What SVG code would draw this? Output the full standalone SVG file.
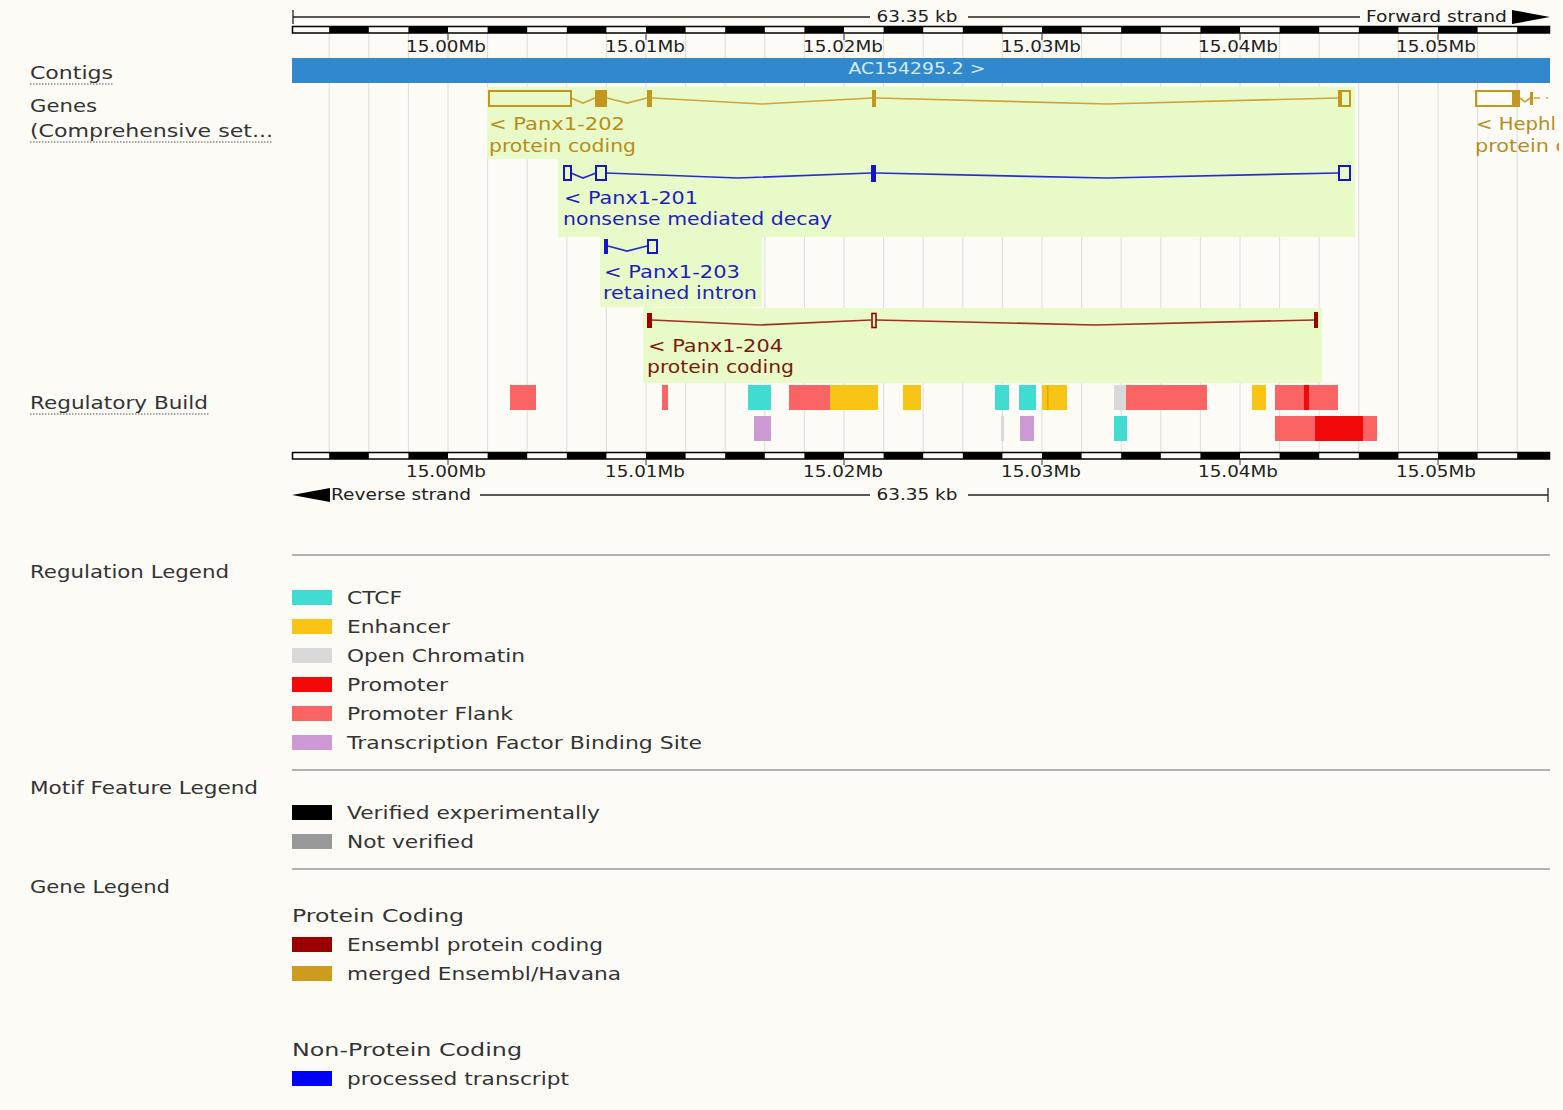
<svg xmlns="http://www.w3.org/2000/svg" width="1563" height="1110" viewBox="0 0 1563 1110">
<style>
text{font-family:"DejaVu Sans","Liberation Sans",sans-serif;}
.lbl{font-size:18px;fill:#333;}
.rul{font-size:15px;fill:#222;}
.leg{font-size:18px;fill:#333;}
.grid{stroke:#dcdcdc;stroke-width:1;}
.ul{stroke:#555;stroke-width:1;stroke-dasharray:1.5,1.5;}
.hr{stroke:#9a9a9a;stroke-width:1.5;}
.gold{fill:#c4961e;}
.goldt{fill:#b88c1c;font-size:18px;}
.goldl{stroke:#d0a43a;stroke-width:1.7;fill:none;}
.goldo{stroke:#c4961e;stroke-width:2;fill:none;}
.blue{fill:#1414c8;}
.bluet{fill:#1e1ebe;font-size:18px;}
.bluel{stroke:#2a2ad0;stroke-width:1.7;fill:none;}
.blueo{stroke:#1414c8;stroke-width:2;fill:none;}
.red{fill:#990000;}
.redt{fill:#7a1a0a;font-size:18px;}
.redl{stroke:#a03020;stroke-width:1.7;fill:none;}
.redo{stroke:#990000;stroke-width:1.6;fill:none;}
.lab{fill:#e7fac8;}
.ctcf{fill:#40dcd2;}
.enh{fill:#f8c416;}
.oc{fill:#d9d9d9;}
.pro{fill:#f20a0a;}
.pf{fill:#fa6464;}
.tfbs{fill:#cc99d2;}
</style>
<defs>
<pattern id="rulerpat" patternUnits="userSpaceOnUse" x="329.2" y="0" width="79.2" height="1200">
<rect x="0" y="0" width="39.6" height="1200" fill="#000"/>
</pattern>
<clipPath id="trackclip"><rect x="292" y="0" width="1267" height="1110"/></clipPath>
</defs>
<rect x="0" y="0" width="1563" height="1110" fill="#fcfbf6"/>

<g id="gridlines">
<path class="grid" d="M329.2 33V452M368.8 33V452M408.4 33V452M448 33V452M487.6 33V452M527.2 33V452M566.8 33V452M606.4 33V452M646 33V452M685.6 33V452M725.2 33V452M764.8 33V452M804.4 33V452M844 33V452M883.6 33V452M923.2 33V452M962.8 33V452M1002.4 33V452M1042 33V452M1081.6 33V452M1121.2 33V452M1160.8 33V452M1200.4 33V452M1240 33V452M1279.6 33V452M1319.2 33V452M1358.8 33V452M1398.4 33V452M1438 33V452M1477.6 33V452M1517.2 33V452"/>
</g>

<g id="top-ruler">
<path d="M293 17H870M968 17H1360M293 10V24" stroke="#222" stroke-width="1.3" fill="none"/>
<text class="rul" x="917" y="22" text-anchor="middle" font-size="16" textLength="81" lengthAdjust="spacingAndGlyphs">63.35 kb</text>
<text class="rul" x="1366" y="22" font-size="16" textLength="141" lengthAdjust="spacingAndGlyphs">Forward strand</text>
<polygon points="1512,10 1550,17 1512,24" fill="#000"/>
<rect x="292.5" y="26.5" width="1257" height="6.5" fill="url(#rulerpat)" stroke="#000" stroke-width="1.5"/>
<path d="M448 33V40M646 33V40M844 33V40M1042 33V40M1240 33V40M1438 33V40" stroke="#555" stroke-width="1.2"/>
<text class="rul" x="446" y="52" text-anchor="middle" textLength="80" lengthAdjust="spacingAndGlyphs">15.00Mb</text>
<text class="rul" x="645" y="52" text-anchor="middle" textLength="80" lengthAdjust="spacingAndGlyphs">15.01Mb</text>
<text class="rul" x="843" y="52" text-anchor="middle" textLength="80" lengthAdjust="spacingAndGlyphs">15.02Mb</text>
<text class="rul" x="1041" y="52" text-anchor="middle" textLength="80" lengthAdjust="spacingAndGlyphs">15.03Mb</text>
<text class="rul" x="1238" y="52" text-anchor="middle" textLength="80" lengthAdjust="spacingAndGlyphs">15.04Mb</text>
<text class="rul" x="1436" y="52" text-anchor="middle" textLength="80" lengthAdjust="spacingAndGlyphs">15.05Mb</text>
</g>

<g id="track-labels">
<text class="lbl" x="30" y="79" textLength="83" lengthAdjust="spacingAndGlyphs">Contigs</text>
<line class="ul" x1="30" y1="84" x2="114" y2="84"/>
<text class="lbl" x="30" y="112" textLength="67" lengthAdjust="spacingAndGlyphs">Genes</text>
<text class="lbl" x="30" y="137" textLength="243" lengthAdjust="spacingAndGlyphs">(Comprehensive set...</text>
<line class="ul" x1="30" y1="142" x2="273" y2="142"/>
<text class="lbl" x="30" y="409" textLength="178" lengthAdjust="spacingAndGlyphs">Regulatory Build</text>
<line class="ul" x1="30" y1="414" x2="210" y2="414"/>
</g>

<g id="contig-AC154295.2">
<rect x="292" y="58" width="1258" height="25" fill="#3188cc"/>
<text x="917" y="74" text-anchor="middle" font-size="15" fill="#d6ebf8" textLength="137" lengthAdjust="spacingAndGlyphs">AC154295.2 &gt;</text>
</g>

<g id="label-backgrounds">
<rect class="lab" x="487" y="87" width="868" height="72"/>
<rect class="lab" x="558" y="159" width="797" height="78"/>
<rect class="lab" x="600" y="237" width="162" height="70"/>
<rect class="lab" x="643" y="308" width="679" height="75"/>
</g>

<g id="connectors">
<polyline class="goldl" points="571,98 583,103 595,98"/>
<polyline class="goldl" points="607,98 627,103 647,98"/>
<polyline class="goldl" points="652,98 762,104 872,98"/>
<polyline class="goldl" points="876,98 1107,104 1338,98"/>
<polyline class="goldl" points="1520,98 1525,102 1530,98"/>
<path d="M1534 98H1540M1546 98H1548" stroke="#d0a43a" stroke-width="1.5"/>
<polyline class="bluel" points="571,173 583,178 596,173"/>
<polyline class="bluel" points="606,173 738,178 871,173"/>
<polyline class="bluel" points="876,173 1107,178 1338,173"/>
<polyline class="bluel" points="608,246 627,251 647,246"/>
<polyline class="redl" points="652,320 761,325 871,320"/>
<polyline class="redl" points="876,320 1095,325 1314,320"/>
</g>

<g id="gene-Panx1-202">
<rect class="goldo" x="489" y="91" width="82" height="15"/>
<rect class="gold" x="595" y="90" width="12" height="17"/>
<rect class="gold" x="647" y="90" width="5" height="17"/>
<rect class="gold" x="872" y="90" width="4" height="17"/>
<rect class="goldo" x="1339" y="91" width="11" height="15"/>
<rect class="gold" x="1338" y="90" width="4" height="17"/>
<text class="goldt" x="489" y="130" textLength="136" lengthAdjust="spacingAndGlyphs">&lt; Panx1-202</text>
<text class="goldt" x="489" y="152" textLength="147" lengthAdjust="spacingAndGlyphs">protein coding</text>
</g>

<g id="gene-Panx1-201">
<rect class="blueo" x="564" y="166" width="7" height="14"/>
<rect class="blueo" x="596" y="166" width="10" height="14"/>
<rect class="blue" x="871" y="165" width="5" height="17"/>
<rect class="blueo" x="1339" y="166" width="11" height="14" stroke-width="2.5"/>
<text class="bluet" x="564" y="204" textLength="134" lengthAdjust="spacingAndGlyphs">&lt; Panx1-201</text>
<text class="bluet" x="563" y="225" textLength="269" lengthAdjust="spacingAndGlyphs">nonsense mediated decay</text>
</g>

<g id="gene-Panx1-203">
<rect class="blue" x="604" y="239" width="4" height="15"/>
<rect class="blueo" x="648" y="240" width="9" height="13"/>
<text class="bluet" x="604" y="278" textLength="136" lengthAdjust="spacingAndGlyphs">&lt; Panx1-203</text>
<text class="bluet" x="603" y="299" textLength="154" lengthAdjust="spacingAndGlyphs">retained intron</text>
</g>

<g id="gene-Panx1-204">
<rect class="red" x="647" y="313" width="5" height="15"/>
<rect class="redo" x="872" y="313.5" width="4" height="14"/>
<rect class="red" x="1314" y="312" width="4" height="16"/>
<text class="redt" x="648" y="352" textLength="135" lengthAdjust="spacingAndGlyphs">&lt; Panx1-204</text>
<text class="redt" x="647" y="373" textLength="147" lengthAdjust="spacingAndGlyphs">protein coding</text>
</g>

<g id="gene-Hephl" clip-path="url(#trackclip)">
<rect class="goldo" x="1476" y="91" width="37" height="15"/>
<rect class="gold" x="1513" y="90" width="7" height="17"/>
<rect class="gold" x="1530" y="92" width="3" height="13"/>
<text class="goldt" x="1476" y="130" textLength="80" lengthAdjust="spacingAndGlyphs">&lt; Hephl</text>
<text class="goldt" x="1475" y="152" textLength="150" lengthAdjust="spacingAndGlyphs">protein coding</text>
</g>

<g id="regulatory-build">
<rect class="pf" x="510" y="385" width="26" height="25"/>
<rect class="pf" x="662" y="385" width="6" height="25"/>
<rect class="ctcf" x="748" y="385" width="23" height="25"/>
<rect class="pf" x="789" y="385" width="41" height="25"/>
<rect class="enh" x="830" y="385" width="48" height="25"/>
<rect class="enh" x="903" y="385" width="18" height="25"/>
<rect class="ctcf" x="995" y="385" width="14" height="25"/>
<rect class="ctcf" x="1019" y="385" width="17" height="25"/>
<rect class="enh" x="1042" y="385" width="25" height="25"/>
<rect x="1047" y="385" width="1.5" height="25" fill="#e0a800"/>
<rect class="oc" x="1114" y="385" width="12" height="25"/>
<rect class="pf" x="1126" y="385" width="81" height="25"/>
<rect class="enh" x="1252" y="385" width="14" height="25"/>
<rect class="pf" x="1275" y="385" width="63" height="25"/>
<rect class="pro" x="1304" y="385" width="5" height="25"/>
<rect class="tfbs" x="754" y="416" width="17" height="25"/>
<rect class="oc" x="1001" y="416" width="3" height="25"/>
<rect class="tfbs" x="1020" y="416" width="14" height="25"/>
<rect class="ctcf" x="1114" y="416" width="13" height="25"/>
<rect class="pf" x="1275" y="416" width="102" height="25"/>
<rect class="pro" x="1315" y="416" width="48" height="25"/>
</g>

<g id="bottom-ruler">
<rect x="292.5" y="452.5" width="1257" height="6.5" fill="url(#rulerpat)" stroke="#000" stroke-width="1.5"/>
<path d="M448 459V465M646 459V465M844 459V465M1042 459V465M1240 459V465M1438 459V465" stroke="#555" stroke-width="1.2"/>
<text class="rul" x="446" y="477" text-anchor="middle" textLength="80" lengthAdjust="spacingAndGlyphs">15.00Mb</text>
<text class="rul" x="645" y="477" text-anchor="middle" textLength="80" lengthAdjust="spacingAndGlyphs">15.01Mb</text>
<text class="rul" x="843" y="477" text-anchor="middle" textLength="80" lengthAdjust="spacingAndGlyphs">15.02Mb</text>
<text class="rul" x="1041" y="477" text-anchor="middle" textLength="80" lengthAdjust="spacingAndGlyphs">15.03Mb</text>
<text class="rul" x="1238" y="477" text-anchor="middle" textLength="80" lengthAdjust="spacingAndGlyphs">15.04Mb</text>
<text class="rul" x="1436" y="477" text-anchor="middle" textLength="80" lengthAdjust="spacingAndGlyphs">15.05Mb</text>
<polygon points="330,488 292,495 330,502" fill="#000"/>
<text class="rul" x="331" y="500" font-size="16" textLength="140" lengthAdjust="spacingAndGlyphs">Reverse strand</text>
<path d="M480 495H870M968 495H1548M1548 488V502" stroke="#222" stroke-width="1.3" fill="none"/>
<text class="rul" x="917" y="500" text-anchor="middle" font-size="16" textLength="81" lengthAdjust="spacingAndGlyphs">63.35 kb</text>
</g>

<g id="regulation-legend">
<line class="hr" x1="292" y1="555" x2="1550" y2="555"/>
<text class="leg" x="30" y="578" textLength="199" lengthAdjust="spacingAndGlyphs">Regulation Legend</text>
<rect class="ctcf" x="292" y="590" width="40" height="15"/>
<text class="leg" x="347" y="604" textLength="55" lengthAdjust="spacingAndGlyphs">CTCF</text>
<rect class="enh" x="292" y="619" width="40" height="15"/>
<text class="leg" x="347" y="633" textLength="103" lengthAdjust="spacingAndGlyphs">Enhancer</text>
<rect class="oc" x="292" y="648" width="40" height="15"/>
<text class="leg" x="347" y="662" textLength="178" lengthAdjust="spacingAndGlyphs">Open Chromatin</text>
<rect class="pro" x="292" y="677" width="40" height="15"/>
<text class="leg" x="347" y="691" textLength="101" lengthAdjust="spacingAndGlyphs">Promoter</text>
<rect class="pf" x="292" y="706" width="40" height="15"/>
<text class="leg" x="347" y="720" textLength="166" lengthAdjust="spacingAndGlyphs">Promoter Flank</text>
<rect class="tfbs" x="292" y="735" width="40" height="15"/>
<text class="leg" x="347" y="749" textLength="355" lengthAdjust="spacingAndGlyphs">Transcription Factor Binding Site</text>
</g>

<g id="motif-legend">
<line class="hr" x1="292" y1="770" x2="1550" y2="770"/>
<text class="leg" x="30" y="794" textLength="228" lengthAdjust="spacingAndGlyphs">Motif Feature Legend</text>
<rect x="292" y="805" width="40" height="15" fill="#000"/>
<text class="leg" x="347" y="819" textLength="253" lengthAdjust="spacingAndGlyphs">Verified experimentally</text>
<rect x="292" y="834" width="40" height="15" fill="#999"/>
<text class="leg" x="347" y="848" textLength="127" lengthAdjust="spacingAndGlyphs">Not verified</text>
</g>

<g id="gene-legend">
<line class="hr" x1="292" y1="869" x2="1550" y2="869"/>
<text class="leg" x="30" y="893" textLength="140" lengthAdjust="spacingAndGlyphs">Gene Legend</text>
<text class="leg" x="292" y="922" font-size="20" textLength="172" lengthAdjust="spacingAndGlyphs">Protein Coding</text>
<rect x="292" y="937" width="40" height="15" fill="#9a0000"/>
<text class="leg" x="347" y="951" textLength="256" lengthAdjust="spacingAndGlyphs">Ensembl protein coding</text>
<rect x="292" y="966" width="40" height="15" fill="#cd9b1d"/>
<text class="leg" x="347" y="980" textLength="274" lengthAdjust="spacingAndGlyphs">merged Ensembl/Havana</text>
<text class="leg" x="292" y="1056" font-size="20" textLength="230" lengthAdjust="spacingAndGlyphs">Non-Protein Coding</text>
<rect x="292" y="1071" width="40" height="15" fill="#0000ff"/>
<text class="leg" x="347" y="1085" textLength="222" lengthAdjust="spacingAndGlyphs">processed transcript</text>
</g>
</svg>
